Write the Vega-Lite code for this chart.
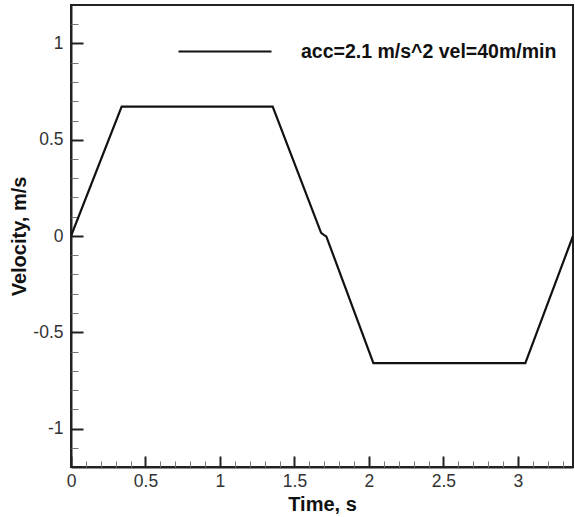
{
  "$schema": "https://vega.github.io/schema/vega-lite/v6.json",
  "width": 502,
  "height": 462,
  "autosize": "none",
  "padding": {"left": 71, "top": 5, "right": 2, "bottom": 50},
  "background": "white",
  "config": {
    "view": {"stroke": "#222", "strokeWidth": 2},
    "font": "Liberation Sans"
  },
  "data": {
    "values": [
      {"t": 0, "v": 0, "series": "acc=2.1 m/s^2 vel=40m/min"},
      {"t": 0.34, "v": 0.672, "series": "acc=2.1 m/s^2 vel=40m/min"},
      {"t": 1.354, "v": 0.672, "series": "acc=2.1 m/s^2 vel=40m/min"},
      {"t": 1.679, "v": 0.016, "series": "acc=2.1 m/s^2 vel=40m/min"},
      {"t": 1.697, "v": 0.006, "series": "acc=2.1 m/s^2 vel=40m/min"},
      {"t": 1.714, "v": -0.002, "series": "acc=2.1 m/s^2 vel=40m/min"},
      {"t": 2.03, "v": -0.66, "series": "acc=2.1 m/s^2 vel=40m/min"},
      {"t": 3.05, "v": -0.66, "series": "acc=2.1 m/s^2 vel=40m/min"},
      {"t": 3.37, "v": 0, "series": "acc=2.1 m/s^2 vel=40m/min"}
    ]
  },
  "layer": [
    {
      "mark": {"type": "line", "strokeWidth": 2.2, "clip": true},
      "encoding": {
        "x": {
          "field": "t",
          "type": "quantitative",
          "scale": {"domain": [0, 3.37], "nice": false, "zero": false},
          "axis": {
            "title": "Time, s",
            "values": [0, 0.5, 1, 1.5, 2, 2.5, 3],
            "tickSize": -11,
            "tickWidth": 2,
            "tickColor": "#222",
            "domainColor": "#222",
            "domainWidth": 2,
            "labelFontSize": 17.5,
            "labelColor": "#333",
            "labelPadding": 16,
            "labelFlush": false,
            "labelExpr": "toString(datum.value)",
            "titleFontSize": 20,
            "titleFontWeight": "bold",
            "titleColor": "#111",
            "titlePadding": 5,
            "grid": false
          }
        },
        "y": {
          "field": "v",
          "type": "quantitative",
          "scale": {"domain": [-1.2, 1.2], "nice": false, "zero": false},
          "axis": {
            "title": "Velocity, m/s",
            "values": [-1, -0.5, 0, 0.5, 1],
            "tickSize": -12,
            "tickWidth": 2,
            "tickColor": "#222",
            "domainColor": "#222",
            "domainWidth": 2,
            "labelFontSize": 17.5,
            "labelColor": "#333",
            "labelPadding": 20,
            "labelFlush": false,
            "labelExpr": "toString(datum.value)",
            "titleFontSize": 20,
            "titleFontWeight": "bold",
            "titleColor": "#111",
            "titlePadding": 3,
            "grid": false
          }
        },
        "color": {
          "field": "series",
          "type": "nominal",
          "scale": {"range": ["#111"]},
          "legend": {
            "orient": "none",
            "legendX": 106,
            "legendY": -1.5,
            "title": null,
            "symbolType": "stroke",
            "symbolSize": 8650,
            "symbolStrokeWidth": 2.2,
            "labelFontSize": 19.5,
            "labelFontWeight": "bold",
            "labelColor": "#111",
            "labelOffset": 28,
            "labelLimit": 400,
            "padding": 0
          }
        }
      }
    },
    {
      "mark": {"type": "line", "strokeOpacity": 0},
      "encoding": {
        "x": {
          "field": "t",
          "type": "quantitative",
          "axis": {
            "orient": "bottom",
            "values": [0.1, 0.2, 0.3, 0.4, 0.6, 0.7, 0.8, 0.9, 1.1, 1.2, 1.3, 1.4, 1.6, 1.7, 1.8, 1.9, 2.1, 2.2, 2.3, 2.4, 2.6, 2.7, 2.8, 2.9, 3.1, 3.2, 3.3],
            "tickSize": -6,
            "tickWidth": 1,
            "tickColor": "#777",
            "labels": false,
            "domain": false,
            "title": null,
            "grid": false
          }
        },
        "y": {
          "field": "v",
          "type": "quantitative",
          "axis": {
            "orient": "left",
            "values": [-1.1, -0.9, -0.8, -0.7, -0.6, -0.4, -0.3, -0.2, -0.1, 0.1, 0.2, 0.3, 0.4, 0.6, 0.7, 0.8, 0.9, 1.1],
            "tickSize": -7,
            "tickWidth": 1,
            "tickColor": "#777",
            "labels": false,
            "domain": false,
            "title": null,
            "grid": false
          }
        }
      }
    }
  ],
  "resolve": {"axis": {"x": "independent", "y": "independent"}}
}
